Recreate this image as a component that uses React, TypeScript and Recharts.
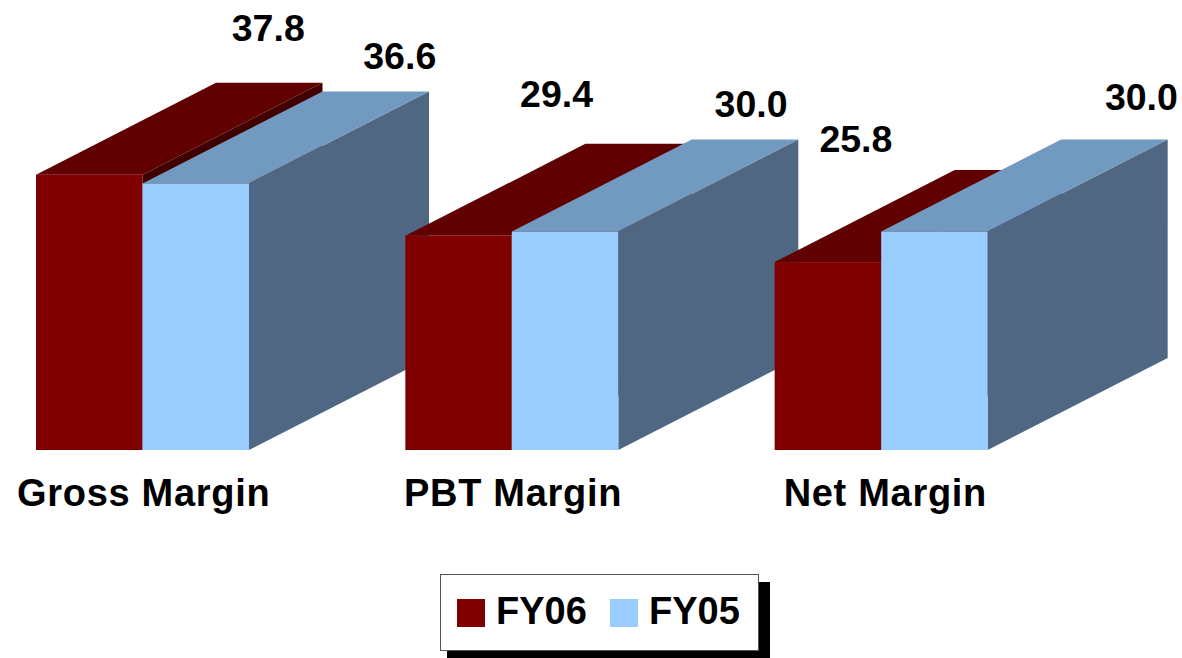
import React from 'react';
import { BarChart, Bar, XAxis, YAxis, Legend, LabelList } from 'recharts';

const categories = ['Gross Margin', 'PBT Margin', 'Net Margin'];
const fy06 = [37.8, 29.4, 25.8];
const fy05 = [36.6, 30.0, 30.0];
const valueLabels06 = ['37.8', '29.4', '25.8'];
const valueLabels05 = ['36.6', '30.0', '30.0'];

const rows = categories.map((name, i) => ({ name, fy06: fy06[i], fy05: fy05[i] }));

// the labels float around in the original, so each one has its own nudge
const labelNudge06 = [[179, -134], [98, -129], [28, -110]];
const labelNudge05 = [[204, -114], [186, -115], [207, -122]];
const tickNudge = [1, 1, 4];

const DEPTH_X = 180;
const DEPTH_Y = 92;
const FONT = '"Liberation Sans", Arial, sans-serif';

const RED = { front: '#800000', top: '#600000', side: '#400000' };
const BLUE = { front: '#99CCFF', top: '#7299BF', side: '#4F6783' };

const Box3D = ({ x, y, width, height, tone }: any) => {
  if (!height || height <= 0) return null;
  const r = x + width;
  const b = y + height;
  return (
    <g>
      <polygon points={`${r},${y} ${r + DEPTH_X},${y - DEPTH_Y} ${r + DEPTH_X},${b - DEPTH_Y} ${r},${b}`} fill={tone.side} />
      <polygon points={`${x},${y} ${x + DEPTH_X},${y - DEPTH_Y} ${r + DEPTH_X},${y - DEPTH_Y} ${r},${y}`} fill={tone.top} />
      <rect x={x} y={y} width={width} height={height} fill={tone.front} />
    </g>
  );
};

// each Bar only holds one category, so the index from LabelList is no use here
const valueLabel = (text: string, nudge: number[]) => (props: any) => {
  const { x, y, width, value } = props;
  if (value === null || value === undefined) return null;
  return (
    <text
      x={x + width / 2 + nudge[0]}
      y={y + nudge[1]}
      textAnchor="middle"
      fontFamily={FONT}
      fontWeight="bold"
      fontSize={37.5}
      fill="#000"
    >
      {text}
    </text>
  );
};

const CategoryTick = ({ x, y, payload, index }: any) => (
  <text
    x={x + tickNudge[index]}
    y={y}
    dy={48}
    textAnchor="middle"
    fontFamily={FONT}
    fontWeight="bold"
    fontSize={38}
    letterSpacing={0.7}
    fill="#000"
  >
    {payload.value}
  </text>
);

const LegendBox = () => (
  <div style={{ position: 'relative', width: 319, height: 77, fontFamily: FONT, fontWeight: 'bold', fontSize: 38 }}>
    <div style={{ position: 'absolute', left: 7, top: 8, width: 323, height: 76, background: '#000' }} />
    <div style={{ position: 'absolute', left: 0, top: 0, width: 317, height: 75, background: '#fff', border: '1px solid #555' }} />
    <div style={{ position: 'absolute', left: 17, top: 25, width: 28, height: 28, background: RED.front }} />
    <div style={{ position: 'absolute', left: 56, top: 15, lineHeight: '44px', color: '#000' }}>FY06</div>
    <div style={{ position: 'absolute', left: 170, top: 25, width: 28, height: 28, background: BLUE.front }} />
    <div style={{ position: 'absolute', left: 209, top: 15, lineHeight: '44px', color: '#000' }}>FY05</div>
  </div>
);

// one x axis per category: Recharts paints a whole series at a time, and the
// next group's boxes have to sit in front of the previous group's side face
const axisIds = ['gross', 'pbt', 'net'];

export default function App() {
  return (
    <div style={{ position: 'absolute', left: -42, top: 0, width: 1224, height: 658 }}>
      <BarChart
        width={1224}
        height={658}
        data={rows}
        margin={{ top: 13, right: 116, bottom: 148, left: 0 }}
        barSize={106.5}
        barGap={0}
      >
        <YAxis hide domain={[0, 60]} />
        {axisIds.map((id, i) => (
          <XAxis
            key={id}
            xAxisId={id}
            dataKey="name"
            hide={i > 0}
            height={60}
            axisLine={false}
            tickLine={false}
            interval={0}
            tick={<CategoryTick />}
          />
        ))}
        {axisIds.flatMap((id, i) => [
          <Bar
            key={`${id}-06`}
            xAxisId={id}
            name="FY06"
            dataKey={(d: any) => (d.name === categories[i] ? d.fy06 : null)}
            isAnimationActive={false}
            shape={(p: any) => <Box3D {...p} tone={RED} />}
          >
            <LabelList content={valueLabel(valueLabels06[i], labelNudge06[i])} />
          </Bar>,
          <Bar
            key={`${id}-05`}
            xAxisId={id}
            name="FY05"
            dataKey={(d: any) => (d.name === categories[i] ? d.fy05 : null)}
            isAnimationActive={false}
            shape={(p: any) => <Box3D {...p} tone={BLUE} />}
          >
            <LabelList content={valueLabel(valueLabels05[i], labelNudge05[i])} />
          </Bar>,
        ])}
        <Legend
          layout="horizontal"
          align="center"
          verticalAlign="middle"
          content={<LegendBox />}
          wrapperStyle={{ left: 482, top: 574, width: 319, height: 77 }}
        />
      </BarChart>
    </div>
  );
}
